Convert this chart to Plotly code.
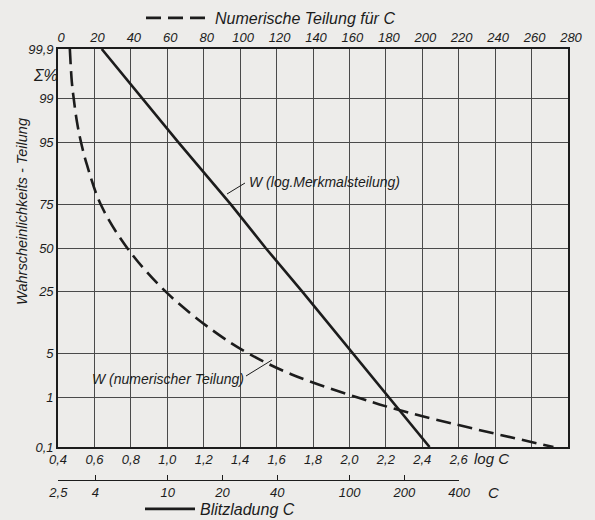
import math
import plotly.graph_objects as go
from statistics import NormalDist

# ---- data ----
# solid line: W on logarithmic characteristic scale (x = log C)
pct_log = [99.9, 99, 95, 75, 50, 25, 5, 1, 0.1]
log_c = [0.64, 0.86, 1.06, 1.35, 1.54, 1.74, 2.02, 2.22, 2.44]

# dashed line: W on numeric scale (x = C)
pct_num = [99.9, 99.5, 99, 97.5, 95, 90, 75, 50, 25, 10, 5, 2.5, 1, 0.5, 0.1]
c_num = [6.5, 7.6, 8.6, 10.4, 12.6, 16.0, 23.5, 38.0, 59, 85, 105, 128, 165, 195, 272]

# axis ticks
y_ticks = [99.9, 99, 95, 75, 50, 25, 5, 1, 0.1]
y_ticktext = ["99,9", "99", "95", "75", "50", "25", "5", "1", "0,1"]
logc_ticks = [0.4, 0.6, 0.8, 1.0, 1.2, 1.4, 1.6, 1.8, 2.0, 2.2, 2.4, 2.6]
logc_ticktext = ["0,4", "0,6", "0,8", "1,0", "1,2", "1,4", "1,6", "1,8", "2,0", "2,2", "2,4", "2,6"]
c_ticks = [2.5, 4, 10, 20, 40, 100, 200, 400]
c_ticktext = ["2,5", "4", "10", "20", "40", "100", "200", "400"]

nd = NormalDist()
def prob(p):
    return nd.inv_cdf(p / 100.0)

FONT = "Liberation Sans"
INK = "#1c1c1c"
GRID = "#4a4a4a"
BG = "#edecea"

LOG_MIN, LOG_MAX = 0.4, 3.2

fig = go.Figure()
fig.add_trace(go.Scatter(
    x=c_num, y=[prob(p) for p in pct_num], xaxis="x2", yaxis="y",
    mode="lines", line=dict(color=INK, width=2.6, dash="15px,7px", shape="spline", smoothing=1.0),
    name="Numerische Teilung für C", legend="legend", hoverinfo="skip"))
fig.add_trace(go.Scatter(
    x=log_c, y=[prob(p) for p in pct_log], xaxis="x", yaxis="y",
    mode="lines", line=dict(color=INK, width=2.6),
    name="Blitzladung C", legend="legend2", hoverinfo="skip"))
# trace that carries the separate C scale (log axis) on its own tiny subplot
fig.add_trace(go.Scatter(x=[c_ticks[0], c_ticks[-1]], y=[None, None], xaxis="x3", yaxis="y2",
                         mode="lines", showlegend=False, hoverinfo="skip"))

ydom0 = (480 - 447) / 431
yr = prob(99.9)
c_lo = math.log10(c_ticks[0]) - 0.002
c_hi = math.log10(c_ticks[-1]) + 0.002

fig.update_layout(
    width=595, height=520,
    margin=dict(l=58, r=27, t=49, b=40, autoexpand=False),
    paper_bgcolor=BG, plot_bgcolor="rgba(0,0,0,0)",
    font=dict(family=FONT, size=13, color=INK, style="italic"),
    xaxis=dict(range=[LOG_MIN, LOG_MAX], tickvals=logc_ticks, ticktext=logc_ticktext,
               showgrid=False, zeroline=False, showline=True, linecolor=INK, linewidth=1.6,
               ticks="", anchor="y", side="bottom", domain=[0, 1],
               tickfont=dict(size=13, style="italic")),
    xaxis2=dict(range=[0, 280], dtick=20, tick0=0, overlaying="x", side="top", anchor="y",
                showgrid=True, gridcolor=GRID, gridwidth=1, zeroline=False,
                showline=True, linecolor=INK, linewidth=1.6, ticks="", ticklabelshift=3,
                tickfont=dict(size=13, style="italic")),
    xaxis3=dict(type="log", range=[c_lo, c_hi],
                domain=[0, (c_hi - LOG_MIN) / (LOG_MAX - LOG_MIN)],
                anchor="y2", side="bottom",
                tickvals=c_ticks, ticktext=c_ticktext, showgrid=False, zeroline=False,
                showline=True, linecolor=INK, linewidth=1.4, ticks="inside", ticklen=5,
                tickcolor=INK, tickwidth=1.2, tickfont=dict(size=13, style="italic")),
    yaxis=dict(range=[-yr, yr], domain=[ydom0, 1], tickvals=[prob(p) for p in y_ticks],
               ticktext=y_ticktext, showgrid=True, gridcolor=GRID, gridwidth=1,
               zeroline=False, showline=True, linecolor=INK, linewidth=1.6, mirror=True,
               ticks="", tickfont=dict(size=13, style="italic")),
    yaxis2=dict(domain=[0, 0.01], anchor="x3", range=[0, 1], visible=False,
                showgrid=False, zeroline=False, fixedrange=True),
    showlegend=True,
    legend=dict(x=(141 - 58) / 510, y=(480 - 18) / 431, xanchor="left", yanchor="middle",
                bgcolor="rgba(0,0,0,0)", font=dict(size=16, style="italic"),
                itemwidth=64, borderwidth=0),
    legend2=dict(x=(140 - 58) / 510, y=(480 - 509) / 431, xanchor="left", yanchor="middle",
                 bgcolor="rgba(0,0,0,0)", font=dict(size=16, style="italic"),
                 itemwidth=50, borderwidth=0),
)

def px(xp):
    return (xp - 58) / 510
def py(yp):
    return (480 - yp) / 431

annotations = [
    dict(text="Σ%", x=px(45), y=py(75), xanchor="center", yanchor="middle", font=dict(size=16)),
    dict(text="Wahrscheinlichkeits - Teilung", x=px(22), y=py(212), textangle=-90,
         xanchor="center", yanchor="middle", font=dict(size=14.5)),
    dict(text="log C", x=px(472), y=py(458), xanchor="left", yanchor="middle", font=dict(size=15)),
    dict(text="C", x=px(486), y=py(492), xanchor="left", yanchor="middle", font=dict(size=15)),
    dict(text="W (log.Merkmalsteilung)", x=px(247), y=py(182), xanchor="left", yanchor="middle",
         font=dict(size=14)),
    dict(text="W (numerischer Teilung)", x=px(246), y=py(379), xanchor="right", yanchor="middle",
         font=dict(size=14)),
]
for a in annotations:
    a.update(xref="paper", yref="paper", showarrow=False)
fig.update_layout(annotations=annotations)

shapes = [
    dict(type="line", x0=px(227), y0=py(194), x1=px(245), y1=py(183)),
    dict(type="line", x0=px(246), y0=py(376), x1=px(272), y1=py(360)),
]
for s in shapes:
    s.update(xref="paper", yref="paper", line=dict(color=INK, width=1))
fig.update_layout(shapes=shapes)

fig.write_html("out.html")
